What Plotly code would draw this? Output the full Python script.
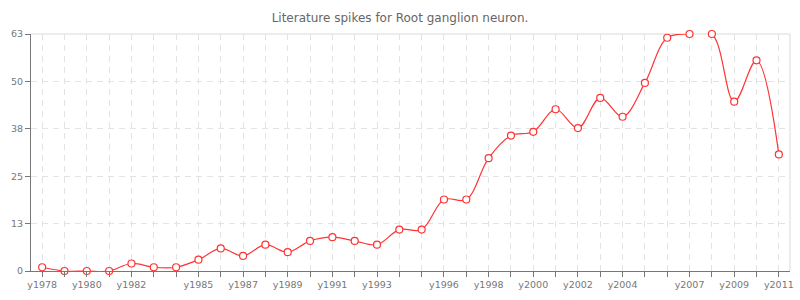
import plotly.graph_objects as go

years = list(range(1978, 2012))
values = [1, 0, 0, 0, 2, 1, 1, 3, 6, 4, 7, 5, 8, 9, 8, 7, 11, 11, 19, 19,
          30, 36, 37, 43, 38, 46, 41, 50, 62, 63, 63, 45, 56, 31]
shown_labels = [1978, 1980, 1982, 1985, 1987, 1989, 1991, 1993, 1996, 1998,
                2000, 2002, 2004, 2007, 2009, 2011]
y_tickvals = [0, 12.6, 25.2, 37.8, 50.4, 63]
y_ticktext = ["0", "13", "25", "38", "50", "63"]
title_text = "Literature spikes for Root ganglion neuron."

x_ticktext = [f"y{y}" if y in shown_labels else "" for y in years]

RED = "#ff3333"
GRID = "#e3e3e3"
AXIS = "#777777"
TXT = "#777777"

fig = go.Figure()
fig.add_trace(go.Scatter(
    x=years, y=values, mode="lines",
    line=dict(color=RED, width=1.2, shape="spline", smoothing=1),
    cliponaxis=True, hoverinfo="skip", showlegend=False))
fig.add_trace(go.Scatter(
    x=years, y=values, mode="markers",
    marker=dict(symbol="circle", size=7, color="white",
                line=dict(color=RED, width=1.2)),
    cliponaxis=False, showlegend=False))

fig.update_layout(
    width=800, height=300,
    margin=dict(l=31, r=10, t=34, b=29, autoexpand=False),
    paper_bgcolor="white", plot_bgcolor="white",
    font=dict(family="DejaVu Sans", color=TXT, size=9),
    title=dict(text=title_text, x=0.5, xanchor="center", y=1 - 18 / 300,
               yanchor="middle", font=dict(size=12, color="#666666")),
    xaxis=dict(
        range=[1977.5, 2011.5], tickmode="array", tickvals=years,
        ticktext=x_ticktext, ticks="outside", ticklen=5, tickcolor=AXIS,
        showline=True, linecolor=AXIS, linewidth=1, mirror=False,
        showgrid=True, gridcolor=GRID, griddash="6px,5px", gridwidth=1,
        zeroline=False, automargin=False, tickfont=dict(size=9.5, color=TXT)),
    yaxis=dict(
        range=[0, 63], tickmode="array", tickvals=y_tickvals,
        ticktext=y_ticktext, ticks="outside", ticklen=5, tickcolor=AXIS,
        showline=True, linecolor=AXIS, linewidth=1,
        showgrid=True, gridcolor=GRID, griddash="6px,5px", gridwidth=1,
        zeroline=False, automargin=False, tickfont=dict(size=9.5, color=TXT)),
)

# light frame on top and right
fig.add_shape(type="line", xref="paper", yref="paper", x0=0, x1=1, y0=1, y1=1,
              line=dict(color="#e6e6e6", width=1.5), layer="below")
fig.add_shape(type="line", xref="paper", yref="paper", x0=1, x1=1, y0=0, y1=1,
              line=dict(color="#e6e6e6", width=1.5), layer="below")

fig.write_html("out.html")
